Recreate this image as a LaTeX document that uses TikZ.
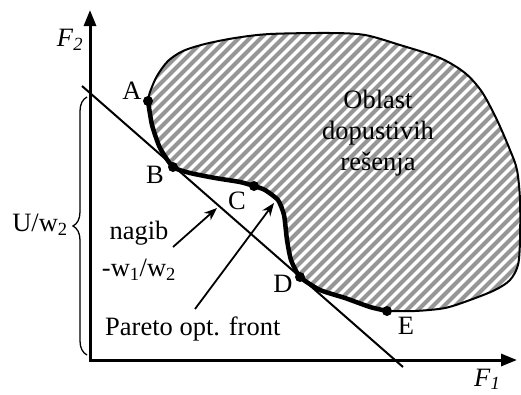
\documentclass[tikz,border=0pt]{standalone}
\usepackage{fontspec}
\setmainfont{Liberation Serif}
\usetikzlibrary{decorations.pathreplacing,arrows.meta}
\definecolor{hatch}{RGB}{150,150,150}
\begin{document}
\begin{tikzpicture}[x=1pt,y=-1pt,
  lbl/.style={font=\fontsize{26.5}{31}\selectfont, inner sep=0pt},
  dot/.style={circle,fill=black,inner sep=0pt,minimum size=10pt},
  ptr/.style={line width=1.8pt,-{Stealth[length=13pt,width=10pt]}},
  axisline/.style={line width=3pt,line join=miter,{Triangle[length=16pt,width=12pt]}-{Triangle[length=16pt,width=12pt]}}]
\useasboundingbox[fill=white] (0,0) rectangle (521,394);
\coordinate (A) at (148,101);
\coordinate (B) at (173,167);
\coordinate (C) at (254,186);
\coordinate (D) at (300,277);
\coordinate (E) at (387,311);
% hatching
\begin{scope}
\clip plot[smooth] coordinates {(A) (150,92) (157,76) (168,61) (183,51) (205,44) (235,38) (270,34) (330,33) (365,35) (400,45) (440,58) (465,73) (482,92) (497,120) (510,150) (517,170) (520,200) (520,240) (518,265) (510,280) (495,290) (470,300) (445,308) (415,311) (E)}
 -- plot[smooth,tension=0.4] coordinates {(E) (370,307) (345,298) (320,290) (D) (291,260) (287,240) (284,215) (278,200) (265,190) (C) (240,182) (215,178) (190,173) (B) (160,148) (152,125) (A)} -- cycle;
\foreach \k in {-20,...,40} \draw[line width=4.2pt,color=hatch] (\k*11,420) -- ++(420,-420);
\end{scope}
% outer boundary
\draw[line width=2pt] plot[smooth] coordinates {(A) (150,92) (157,76) (168,61) (183,51) (205,44) (235,38) (270,34) (330,33) (365,35) (400,45) (440,58) (465,73) (482,92) (497,120) (510,150) (517,170) (520,200) (520,240) (518,265) (510,280) (495,290) (470,300) (445,308) (415,311) (E)};
% pareto front
\draw[line width=4.5pt,line join=round] plot[smooth,tension=0.35] coordinates {(A) (152,125) (160,148) (B) (190,173) (215,178) (240,182) (C) (265,190) (278,200) (284,215) (287,240) (291,260) (D) (320,290) (345,298) (370,307) (E)};
\foreach \p in {A,B,C,D,E} \node[dot] at (\p) {};
% axes
\coordinate (O) at (90,360);
\coordinate (Ytip) at (90,10);
\coordinate (Xtip) at (517,360);
\draw[axisline] (Ytip) -- (O) -- (Xtip);
% tangent line
\coordinate (T1) at (82,86);
\coordinate (T2) at (403,367);
\draw[line width=2pt] (T1) -- (T2);
% brace
\coordinate (br1) at (87,355);
\coordinate (br2) at (87,97);
\draw[decorate,decoration={brace,amplitude=14pt},line width=1.3pt] (br1) -- (br2);
% labels
\node[lbl] (lF2) at (70,40) {\textit{F}\textsubscript{\textit{2}}};
\node[lbl,anchor=base west] (lF1) at (474,386) {\textit{F}\textsubscript{\textit{1}}};
\node[lbl] (lA) at (132,91) {A};
\node[lbl] (lB) at (155,175) {B};
\node[lbl] (lC) at (237,201) {C};
\node[lbl] (lD) at (283,284) {D};
\node[lbl] (lE) at (406,326) {E};
\node[lbl] (lU) at (40,225) {U/w\textsubscript{2}};
\node[lbl] (lnag) at (139,233) {nagib};
\node[lbl] (lw) at (139,270) {-w\textsubscript{1}/w\textsubscript{2}};
\node[lbl,anchor=base west] (lpar) at (105,335) {Pareto opt. front};
\node[lbl,align=center] (lobl) at (378,133) {Oblast\\dopustivih\\rešenja};
% pointer arrows
\coordinate (n1) at (173,247);
\coordinate (n2) at (217,208);
\draw[ptr] (n1) -- (n2);
\coordinate (p1) at (195,309);
\coordinate (p2) at (274,203);
\draw[ptr] (p1) -- (p2);
\end{tikzpicture}
\end{document}
